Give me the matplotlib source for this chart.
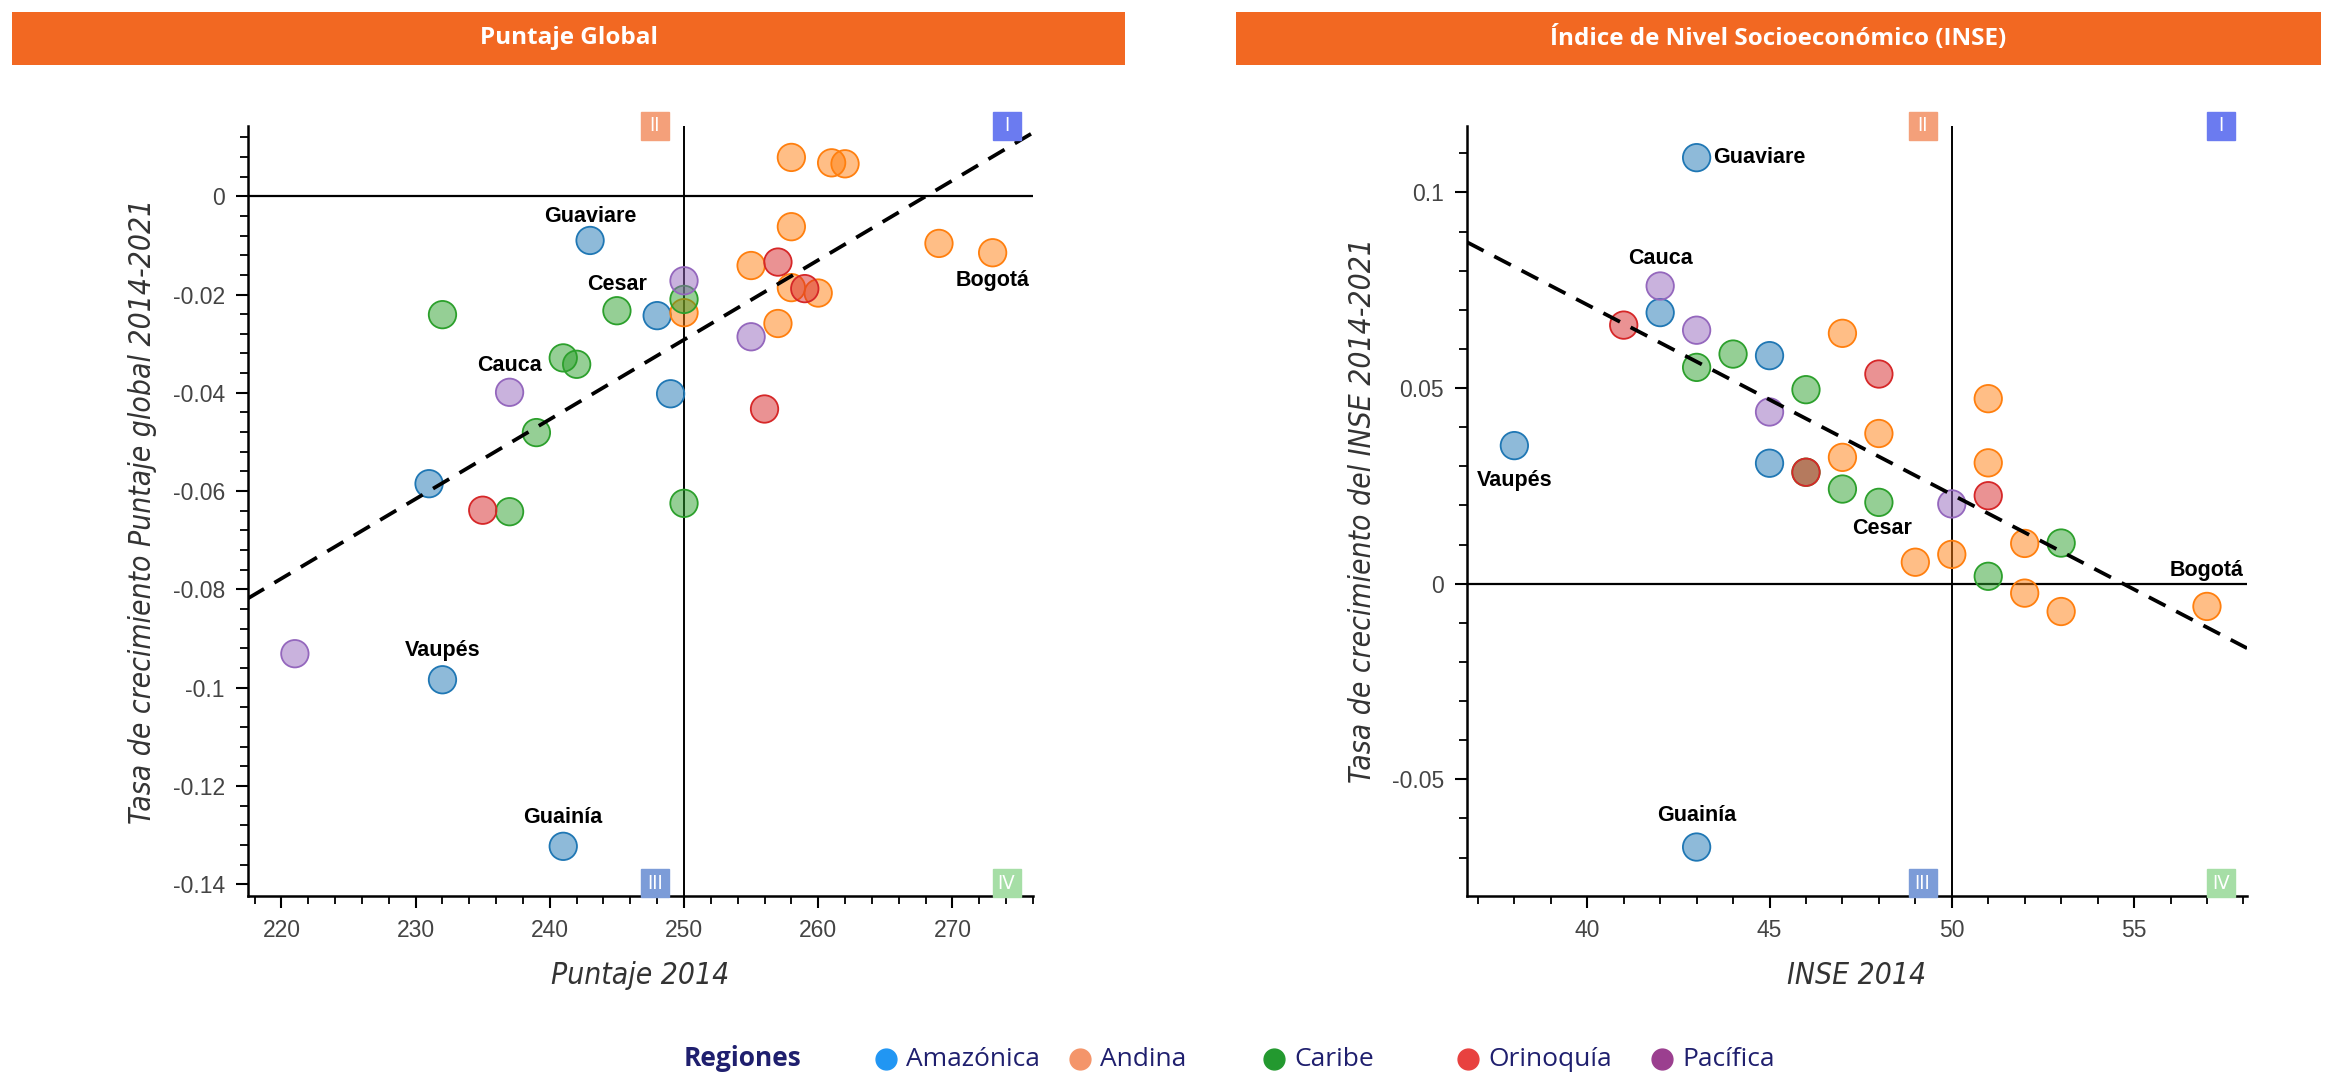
import numpy as np
import matplotlib.pyplot as plt
from matplotlib.patches import Rectangle
from matplotlib.ticker import MultipleLocator, FuncFormatter

plt.rcParams['font.family'] = ['Liberation Sans', 'DejaVu Sans']

# ---- data ----
regions = ['Amazónica', 'Andina', 'Caribe', 'Orinoquía', 'Pacífica']

# Puntaje Global panel
pg_amazonica_x = [243, 248, 249, 231, 232, 241]
pg_amazonica_y = [-0.0090, -0.0243, -0.0402, -0.0585, -0.0984, -0.1323]
pg_andina_x = [258, 261, 262, 258, 269, 273, 255, 258, 260, 250, 257]
pg_andina_y = [0.0079, 0.0068, 0.0066, -0.0062, -0.0096, -0.0115, -0.0141,
               -0.0186, -0.0197, -0.0237, -0.0259]
pg_caribe_x = [250, 232, 245, 241, 242, 239, 237, 250]
pg_caribe_y = [-0.0210, -0.0241, -0.0233, -0.0329, -0.0342, -0.0481, -0.0642, -0.0625]
pg_orinoquia_x = [257, 259, 256, 235]
pg_orinoquia_y = [-0.0134, -0.0188, -0.0433, -0.0639]
pg_pacifica_x = [250, 255, 237, 221]
pg_pacifica_y = [-0.0172, -0.0286, -0.0399, -0.0931]
pg_trend = (0.00162, -0.4342)      # slope, intercept of the dashed trend line

# INSE panel
inse_amazonica_x = [43, 42, 45, 38, 45, 43]
inse_amazonica_y = [0.1089, 0.0693, 0.0583, 0.0353, 0.0308, -0.0673]
inse_andina_x = [47, 51, 48, 47, 51, 52, 49, 50, 52, 53, 57]
inse_andina_y = [0.0640, 0.0473, 0.0384, 0.0323, 0.0309, 0.0103, 0.0055,
                 0.0075, -0.0024, -0.0071, -0.0058]
inse_caribe_x = [44, 43, 46, 47, 48, 53, 51, 46]
inse_caribe_y = [0.0587, 0.0553, 0.0496, 0.0242, 0.0208, 0.0104, 0.0019, 0.0285]
inse_orinoquia_x = [41, 48, 46, 51]
inse_orinoquia_y = [0.0661, 0.0536, 0.0285, 0.0225]
inse_pacifica_x = [42, 43, 45, 50]
inse_pacifica_y = [0.0761, 0.0648, 0.0439, 0.0204]
inse_trend = (-0.00485, 0.2653)

# labelled departments: (name, region, index in that region's list, offset in points, ha)
pg_labels = [('Guaviare', 'Amazónica', 0, (0, 17), 'center'),
             ('Cesar', 'Caribe', 2, (0, 19), 'center'),
             ('Cauca', 'Pacífica', 2, (0, 19), 'center'),
             ('Bogotá', 'Andina', 5, (0, -20), 'center'),
             ('Vaupés', 'Amazónica', 4, (0, 21), 'center'),
             ('Guainía', 'Amazónica', 5, (0, 21), 'center')]
inse_labels = [('Guaviare', 'Amazónica', 0, (12, 0), 'left'),
               ('Cauca', 'Pacífica', 0, (0, 20), 'center'),
               ('Vaupés', 'Amazónica', 3, (0, -25), 'center'),
               ('Cesar', 'Caribe', 4, (2, -19), 'center'),
               ('Bogotá', 'Andina', 10, (0, 26), 'center'),
               ('Guainía', 'Amazónica', 5, (0, 23), 'center')]

point_colors = ['#1f77b4', '#ff7f0e', '#2ca02c', '#d62728', '#9467bd']
legend_colors = ['#2196F3', '#F4956A', '#23992F', '#E8413F', '#9B3F8F']
quad_colors = {'I': '#6B7BF0', 'II': '#F4A07A', 'III': '#7C9CD8', 'IV': '#A6DEA6'}
header_color = '#F26822'
navy = '#1F1F6E'

pg_data = {'Amazónica': (pg_amazonica_x, pg_amazonica_y),
           'Andina': (pg_andina_x, pg_andina_y),
           'Caribe': (pg_caribe_x, pg_caribe_y),
           'Orinoquía': (pg_orinoquia_x, pg_orinoquia_y),
           'Pacífica': (pg_pacifica_x, pg_pacifica_y)}
inse_data = {'Amazónica': (inse_amazonica_x, inse_amazonica_y),
             'Andina': (inse_andina_x, inse_andina_y),
             'Caribe': (inse_caribe_x, inse_caribe_y),
             'Orinoquía': (inse_orinoquia_x, inse_orinoquia_y),
             'Pacífica': (inse_pacifica_x, inse_pacifica_y)}

fig = plt.figure(figsize=(23.3, 10.73), dpi=100)

label_font = dict(family='DejaVu Sans', stretch='condensed', style='italic',
                  fontsize=21.5, color='#333333')


def fmt(v, pos):
    return f'{round(v, 4) + 0.0:g}'


def badge(ax, text, xy, coords, off, color):
    ax.plot([xy[0]], [xy[1]], marker='s', markersize=20, color=color, clip_on=False,
            transform=coords + plt.matplotlib.transforms.ScaledTranslation(
                off[0] / 72, off[1] / 72, fig.dpi_scale_trans), zorder=6)
    ax.annotate(text, xy, xycoords=coords, xytext=off, textcoords='offset points',
                ha='center', va='center', color='white', fontsize=14.5,
                family='DejaVu Sans', stretch='condensed', zorder=7,
                annotation_clip=False)


def draw_panel(ax, data, labels, trend, xref, xlim, ylim, xmaj, xmin, ymaj, ymin,
               xlabel, ylabel):
    for reg, col in zip(regions, point_colors):
        xs, ys = data[reg]
        ax.scatter(xs, ys, s=390, facecolor=col, alpha=0.5, edgecolor='none', zorder=3)
        ax.scatter(xs, ys, s=390, facecolor='none', edgecolor=col, linewidth=1.3, zorder=3)

    slope, icpt = trend
    xx = np.array(xlim)
    ax.plot(xx, icpt + slope * xx, color='black', lw=2.7, dashes=(5, 3.2), zorder=4)

    ax.axhline(0, color='black', lw=1.6, zorder=2)
    ax.axvline(xref, color='black', lw=1.4, zorder=2)

    for name, reg, idx, off, ha in labels:
        xs, ys = data[reg]
        ax.annotate(name, (xs[idx], ys[idx]), xytext=off, textcoords='offset points',
                    ha=ha, va='center', fontsize=15.5, fontweight='bold',
                    color='black', zorder=5)

    # quadrant badges
    blend = ax.get_xaxis_transform()
    badge(ax, 'II', (xref, 1.0), blend, (-21, 0), quad_colors['II'])
    badge(ax, 'I', (1.0, 1.0), ax.transAxes, (-19, 0), quad_colors['I'])
    badge(ax, 'III', (xref, 0.0), blend, (-21, 9), quad_colors['III'])
    badge(ax, 'IV', (1.0, 0.0), ax.transAxes, (-19, 9), quad_colors['IV'])

    ax.set_xlim(xlim)
    ax.set_ylim(ylim)
    for sp in ['top', 'right']:
        ax.spines[sp].set_visible(False)
    for sp in ['left', 'bottom']:
        ax.spines[sp].set_linewidth(1.8)
    ax.xaxis.set_major_locator(MultipleLocator(xmaj))
    ax.xaxis.set_minor_locator(MultipleLocator(xmin))
    ax.yaxis.set_major_locator(MultipleLocator(ymaj))
    ax.yaxis.set_minor_locator(MultipleLocator(ymin))
    ax.yaxis.set_major_formatter(FuncFormatter(fmt))
    ax.tick_params(which='major', length=8.5, width=1.5, pad=8, labelsize=16.5,
                   labelcolor='#444444')
    ax.tick_params(which='minor', length=5.5, width=1.3)
    ax.set_xlabel(xlabel, labelpad=14, **label_font)
    ax.set_ylabel(ylabel, labelpad=11, **label_font)


ax1 = fig.add_axes([0.1064, 0.165, 0.3369, 0.7176])
draw_panel(ax1, pg_data, pg_labels, pg_trend, 250, (217.5, 276.0), (-0.1424, 0.0143),
           10, 2, 0.02, 0.004, 'Puntaje 2014', 'Tasa de crecimiento Puntaje global 2014-2021')

ax2 = fig.add_axes([0.6296, 0.165, 0.3348, 0.7176])
draw_panel(ax2, inse_data, inse_labels, inse_trend, 50, (36.7, 58.1), (-0.0798, 0.117),
           5, 1, 0.05, 0.01, 'INSE 2014', 'Tasa de crecimiento del INSE 2014-2021')

# header bars
for x0, x1, title in [(12, 1125, 'Puntaje Global'),
                      (1236, 2321, 'Índice de Nivel Socioeconómico (INSE)')]:
    fig.add_artist(Rectangle((x0 / 2330, 1 - 65 / 1073), (x1 - x0) / 2330, 53 / 1073,
                             transform=fig.transFigure, fc=header_color, ec='none'))
    fig.text((x0 + x1) / 2 / 2330, 1 - 38.5 / 1073, title, ha='center', va='center',
             color='white', fontsize=17.5, fontweight='bold', family='Open Sans')

# legend row
fig.text(743 / 2330, 1 - 1059 / 1073, 'Regiones', ha='center', va='center',
         color=navy, fontsize=19, fontweight='bold', family='Open Sans')
for i, (reg, col) in enumerate(zip(regions, legend_colors)):
    cx = (886 + i * 194) / 2330
    fig.add_artist(plt.Line2D([cx], [1 - 1059 / 1073], marker='o', markersize=15,
                              color=col, transform=fig.transFigure))
    fig.text(cx + 20 / 2330, 1 - 1059 / 1073, reg, ha='left', va='center',
             color=navy, fontsize=19, family='Open Sans')

fig.savefig('out.png', dpi=100)
